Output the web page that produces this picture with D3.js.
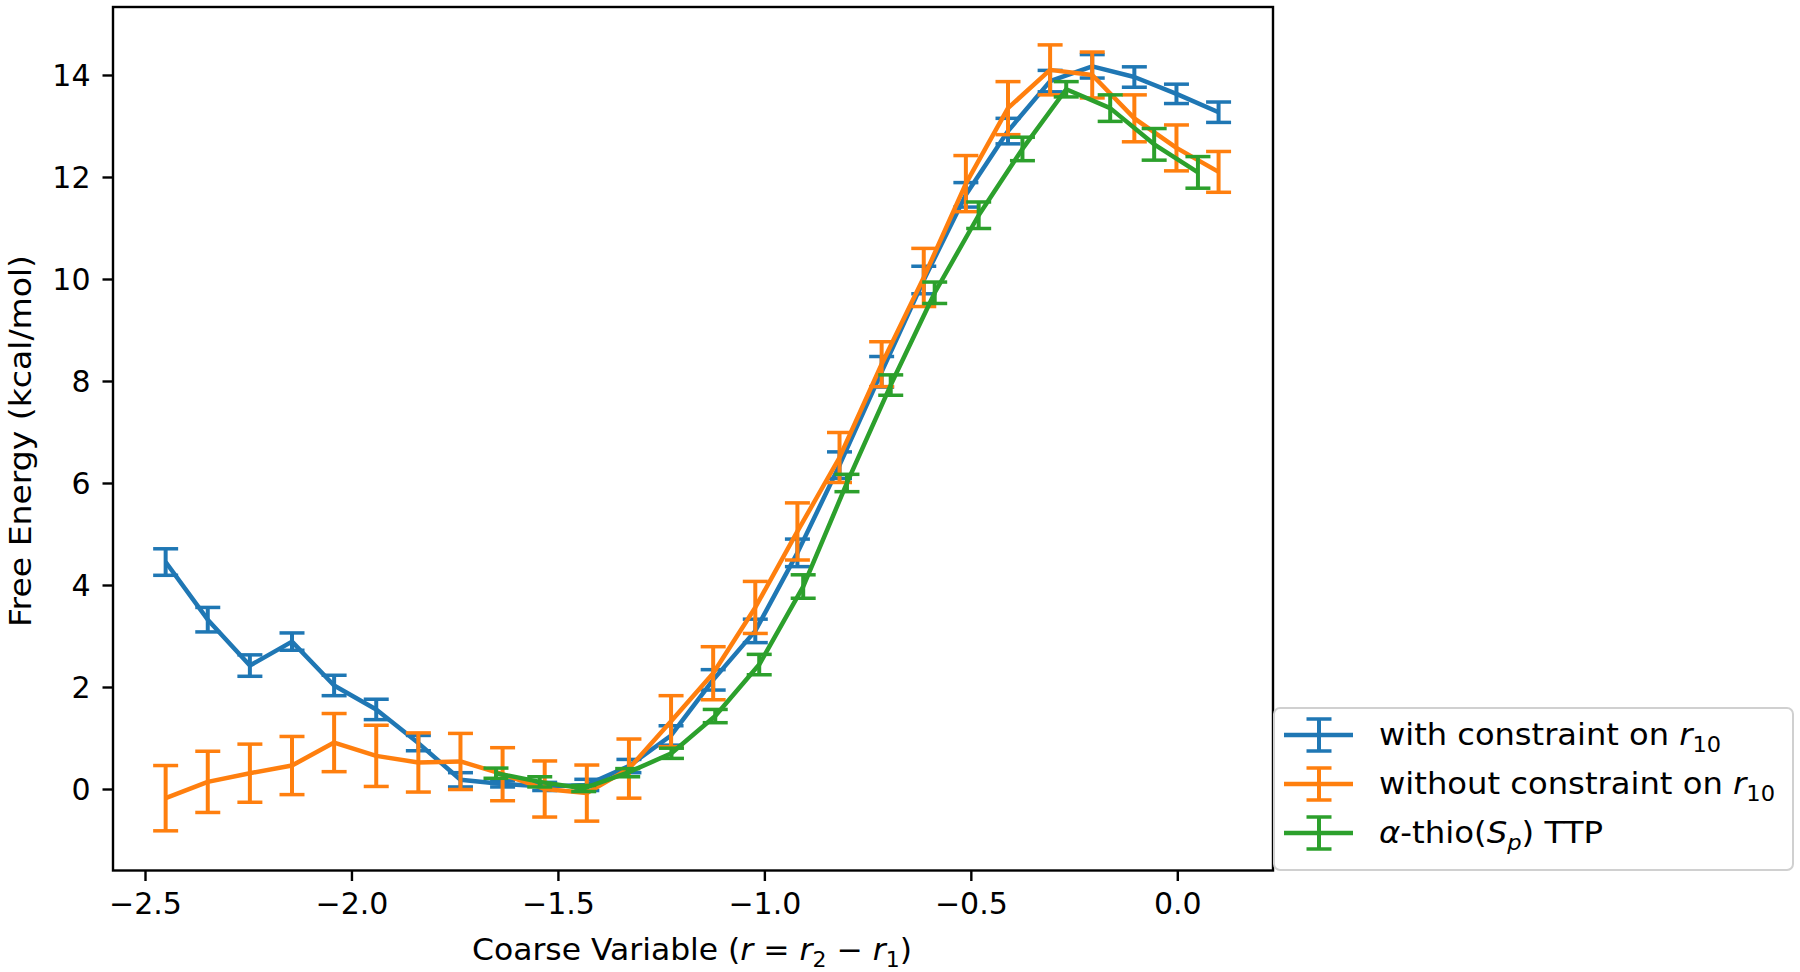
<!DOCTYPE html>
<html>
<head>
<meta charset="utf-8">
<script src="https://cdn.jsdelivr.net/npm/d3@7"></script>
<style>
  html, body { margin: 0; padding: 0; background: #fff; }
  svg { display: block; }
  text { font-family: "DejaVu Sans", sans-serif; fill: #000; }
</style>
</head>
<body>
<svg id="chart" width="1800" height="972"></svg>
<script>
// ---------- data ----------
const xConstraint = [-2.45,-2.348,-2.246,-2.144,-2.042,-1.94,-1.838,-1.736,-1.634,-1.532,-1.43,-1.328,-1.226,-1.124,-1.022,-0.92,-0.818,-0.716,-0.614,-0.512,-0.41,-0.308,-0.206,-0.104,-0.002,0.1];
const withY   = [4.45,3.32,2.42,2.89,2.03,1.56,0.9,0.18,0.1,0.05,0.08,0.45,1.05,2.14,3.1,4.63,6.35,8.18,9.98,11.65,12.9,13.88,14.17,13.96,13.63,13.27];
const withErr = [0.26,0.24,0.21,0.17,0.2,0.2,0.15,0.14,0.06,0.08,0.11,0.13,0.19,0.2,0.23,0.27,0.26,0.3,0.27,0.24,0.25,0.21,0.23,0.2,0.19,0.2];
const withoutY   = [-0.18,0.14,0.31,0.46,0.91,0.65,0.52,0.54,0.29,0.0,-0.08,0.4,1.33,2.27,3.56,5.05,6.5,8.33,10.03,11.87,13.35,14.1,14.0,13.15,12.57,12.1];
const withoutErr = [0.64,0.6,0.57,0.57,0.57,0.6,0.58,0.55,0.52,0.55,0.55,0.58,0.5,0.52,0.51,0.56,0.49,0.44,0.57,0.55,0.52,0.49,0.45,0.46,0.45,0.4];
const xThio = [-1.65,-1.544,-1.4375,-1.331,-1.225,-1.119,-1.0125,-0.906,-0.8,-0.694,-0.5875,-0.481,-0.375,-0.269,-0.1625,-0.056,0.05];
const thioY   = [0.31,0.14,0.01,0.32,0.7,1.43,2.44,3.97,6.0,7.92,9.73,11.25,12.55,13.72,13.35,12.64,12.09];
const thioErr = [0.1,0.1,0.06,0.08,0.1,0.13,0.2,0.23,0.17,0.2,0.21,0.26,0.23,0.15,0.26,0.31,0.31];
const xTicks = [-2.5,-2.0,-1.5,-1.0,-0.5,0.0];
const yTicks = [0,2,4,6,8,10,12,14];
const colors = ["#1f77b4","#ff7f0e","#2ca02c"];

const series = [
  {x: xConstraint, y: withY, e: withErr, color: colors[0]},
  {x: xConstraint, y: withoutY, e: withoutErr, color: colors[1]},
  {x: xThio, y: thioY, e: thioErr, color: colors[2]}
];

// ---------- layout ----------
const L = 113, R = 1273, T = 7, B = 870.5;
const svg = d3.select("#chart");
svg.append("rect").attr("width",1800).attr("height",972).attr("fill","#fff");

const x = d3.scaleLinear().domain([-2.5775, 0.2318]).range([L, R]);
const y = d3.scaleLinear().domain([-1.598, 15.333]).range([B, T]);

// ---------- series ----------
const capHalf = 12.5;
series.forEach(s => {
  const g = svg.append("g");
  const pts = s.x.map((xv, i) => ({x: xv, y: s.y[i], e: s.e[i]}));
  g.selectAll("line.bar").data(pts).enter().append("line")
    .attr("x1", d => x(d.x)).attr("x2", d => x(d.x))
    .attr("y1", d => y(d.y - d.e)).attr("y2", d => y(d.y + d.e))
    .attr("stroke", s.color).attr("stroke-width", 4);
  ["lo","hi"].forEach(k => {
    g.selectAll("line.cap"+k).data(pts).enter().append("line")
      .attr("x1", d => x(d.x) - capHalf).attr("x2", d => x(d.x) + capHalf)
      .attr("y1", d => y(k === "lo" ? d.y - d.e : d.y + d.e))
      .attr("y2", d => y(k === "lo" ? d.y - d.e : d.y + d.e))
      .attr("stroke", s.color).attr("stroke-width", 3.5);
  });
  g.append("path").datum(pts)
    .attr("d", d3.line().x(d => x(d.x)).y(d => y(d.y)))
    .attr("fill","none").attr("stroke", s.color).attr("stroke-width", 4.5)
    .attr("stroke-linejoin","round").attr("stroke-linecap","butt");
});

// ---------- axes ----------
const fmtX = d => d3.format(".1f")(d);
const xAxis = svg.append("g").attr("transform", `translate(0,${B})`)
  .call(d3.axisBottom(x).tickValues(xTicks).tickFormat(fmtX).tickSize(10.5).tickPadding(12));
const yAxis = svg.append("g").attr("transform", `translate(${L},0)`)
  .call(d3.axisLeft(y).tickValues(yTicks).tickFormat(d3.format("d")).tickSize(10.5).tickPadding(12));
[xAxis, yAxis].forEach(a => {
  a.select(".domain").remove();
  a.selectAll(".tick line").attr("stroke","#000").attr("stroke-width",2.4);
  a.selectAll(".tick text").attr("font-size",30).attr("font-family","DejaVu Sans").attr("fill","#000");
});
yAxis.selectAll(".tick text").attr("dy","0.36em");

// frame
svg.append("rect").attr("x",L).attr("y",T).attr("width",R-L).attr("height",B-T)
  .attr("fill","none").attr("stroke","#000").attr("stroke-width",2.4);

// ---------- labels ----------
const xl = svg.append("text").attr("x",692).attr("y",960)
  .attr("text-anchor","middle").attr("font-size",30)
  .attr("textLength",440).attr("lengthAdjust","spacingAndGlyphs");
xl.append("tspan").text("Coarse Variable (");
xl.append("tspan").attr("font-style","italic").text("r");
xl.append("tspan").text(" = ");
xl.append("tspan").attr("font-style","italic").text("r");
xl.append("tspan").attr("font-size",21).attr("dy",7).text("2");
xl.append("tspan").attr("dy",-7).text(" − ");
xl.append("tspan").attr("font-style","italic").text("r");
xl.append("tspan").attr("font-size",21).attr("dy",7).text("1");
xl.append("tspan").attr("dy",-7).text(")");

svg.append("text").attr("transform",`translate(31,441) rotate(-90)`)
  .attr("text-anchor","middle").attr("font-size",30)
  .attr("textLength",372).attr("lengthAdjust","spacingAndGlyphs")
  .text("Free Energy (kcal/mol)");

// ---------- legend ----------
const lg = svg.append("g");
lg.append("rect").attr("x",1274).attr("y",708).attr("width",519).attr("height",162)
  .attr("rx",6).attr("fill","#fff").attr("fill-opacity",0.8)
  .attr("stroke","#d0d0d0").attr("stroke-width",2);
const rows = [735, 784, 833];
const legendLengths = [342, 396, 224];
const labels = [
  [["with constraint on ",null],["r","i"],["10","sub"]],
  [["without constraint on ",null],["r","i"],["10","sub"]],
  [["α","i"],["-thio(",null],["S","i"],["p","isub"],[") TTP","up"]]
];
rows.forEach((cy, i) => {
  const c = colors[i];
  lg.append("line").attr("x1",1284).attr("x2",1353).attr("y1",cy).attr("y2",cy)
    .attr("stroke",c).attr("stroke-width",4.5);
  lg.append("line").attr("x1",1319).attr("x2",1319).attr("y1",cy-16).attr("y2",cy+16)
    .attr("stroke",c).attr("stroke-width",4);
  [cy-16, cy+16].forEach(yy => lg.append("line").attr("x1",1319-capHalf).attr("x2",1319+capHalf)
    .attr("y1",yy).attr("y2",yy).attr("stroke",c).attr("stroke-width",3.5));
  const t = lg.append("text").attr("x",1379).attr("y",cy+10).attr("font-size",30)
    .attr("textLength",legendLengths[i]).attr("lengthAdjust","spacingAndGlyphs");
  labels[i].forEach(([txt, kind]) => {
    const ts = t.append("tspan").text(txt);
    if (kind === "i") ts.attr("font-style","italic");
    if (kind === "sub") ts.attr("font-size",21).attr("dy",7);
    if (kind === "isub") ts.attr("font-size",21).attr("dy",7).attr("font-style","italic");
    if (kind === "up") ts.attr("dy",-7);
  });
});
</script>
</body>
</html>
